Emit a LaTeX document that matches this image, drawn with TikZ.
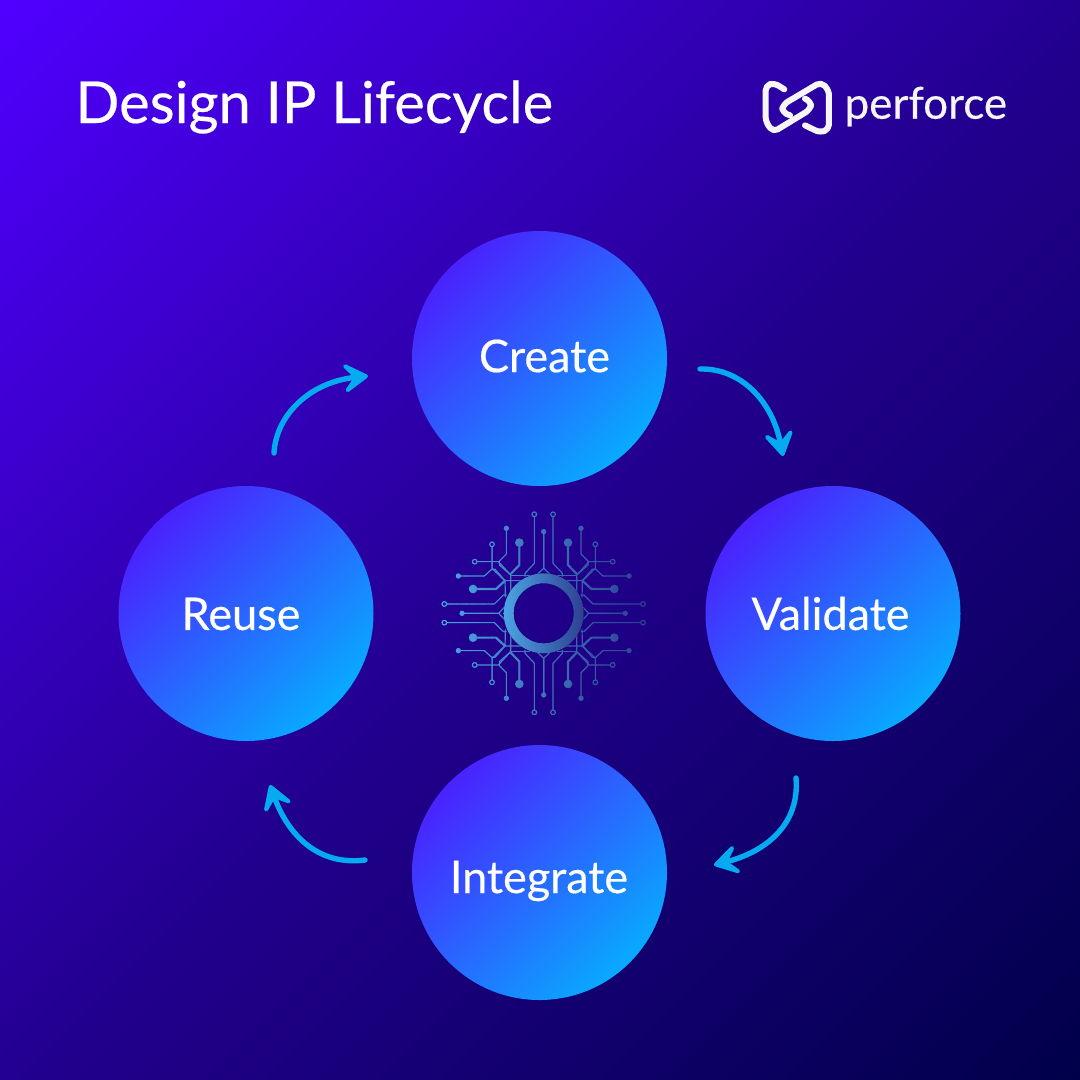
\documentclass[tikz,border=0pt]{standalone}
\usepackage{fontspec}
\setmainfont[RawFeature={embolden=0.35}]{Lato}
\usetikzlibrary{arrows.meta}
\definecolor{bgA}{HTML}{5000FF}
\definecolor{bgB}{HTML}{230090}
\definecolor{bgC}{HTML}{00004A}
\definecolor{discA}{HTML}{4A22FF}
\definecolor{discB}{HTML}{08AAFF}
\definecolor{flowc}{HTML}{05ABF0}
\definecolor{inkw}{HTML}{F6F6F8}
\definecolor{chipL}{HTML}{4CA4E4}
\definecolor{chipR}{HTML}{2E3F92}
\pgfdeclareverticalshading{bgshade}{100bp}{color(0bp)=(bgC); color(14.6bp)=(bgC); color(50bp)=(bgB); color(85.4bp)=(bgA); color(100bp)=(bgA)}
\pgfdeclareverticalshading{discshade}{100bp}{color(0bp)=(discB); color(25bp)=(discB); color(75bp)=(discA); color(100bp)=(discA)}
\pgfdeclarehorizontalshading{ringshade}{100bp}{color(0bp)=(chipL); color(25bp)=(chipL); color(75bp)=(chipR); color(100bp)=(chipR)}
\tikzset{
 stage/.style={circle,minimum size=255pt,inner sep=0pt,shading=discshade,shading angle=45},
 stagetext/.style={text=white,font=\fontsize{45}{45}\selectfont},
 flow/.style={draw=flowc,line width=5.4pt,line cap=round,-{Stealth[length=33pt,width=40pt,inset=17pt,round,line width=4pt,fill=flowc]}},
 trace/.style={line width=1.2pt,line join=round},
 logoline/.style={draw=inkw,line width=6pt,line cap=round,line join=round,rounded corners=5pt},
}
% one quarter of the circuit, in units of one third of a pixel, centre at 0,0
\newcommand{\chipquarter}[1]{%
 \begin{scope}[#1]
  \draw[trace] (-112,-255)--(-112,-178)--(-133,-157)--(-133,-145)--(-99,-115)--(-99,-50);
  \draw[trace,line width=2.2pt] (-73,-212)--(-73,-145)--(-99,-118);
  \draw[trace] (-155,-200)--(-155,-135)--(-116,-97)--(-115,-48);
  \fill (-112,-255) circle (8);
  \fill (-73,-212) circle (13);
  \draw[trace] (-155,-207) circle (7);
  \draw[trace] (-28,-290)--(-28,-150)--(-56,-120)--(-56,-110);
  \draw[trace] (-28,-297) circle (7);
  \draw[trace] (-200,-155)--(-136,-155)--(-99,-115);
  \draw[trace] (-207,-155) circle (7);
  \draw[trace] (-256,-112)--(-178,-112)--(-156,-132)--(-146,-132)--(-116,-98)--(-50,-98);
  \fill (-256,-112) circle (8);
  \draw[trace,line width=2.2pt] (-212,-73)--(-143,-73)--(-114,-100);
  \fill (-212,-73) circle (13);
  \draw[trace] (-291,-28)--(-148,-28)--(-121,-55)--(-111,-55);
  \draw[trace] (-298,-28) circle (7);
  \draw[trace] (-99,-114)--(-40,-114);
 \end{scope}}
\newcommand{\chiptraces}{%
 \chipquarter{}\chipquarter{xscale=-1}\chipquarter{yscale=-1}\chipquarter{xscale=-1,yscale=-1}%
 \draw[trace] (0,-245)--(0,-135)--(-18,-118) (0,-135)--(18,-118);
 \draw[trace] (0,245)--(0,135)--(-18,118) (0,135)--(18,118);
 \draw[trace] (-245,0)--(-135,0)--(-118,-18) (-135,0)--(-118,18);
 \draw[trace] (245,0)--(135,0)--(118,-18) (135,0)--(118,18);
 \fill (0,-245) circle (8); \fill (0,245) circle (8);
 \fill (-245,0) circle (8); \fill (245,0) circle (8);
}
\begin{document}
\begin{tikzpicture}[x=1pt,y=-1pt]
\useasboundingbox (0,0) rectangle (1080,1080);
\fill[shading=bgshade,shading angle=45] (0,0) rectangle (1080,1080);

\node[anchor=west,text=white,font=\fontsize{57.8}{58}\selectfont] (title) at (72,107) {Design IP Lifecycle};

% stages
\node[stage] (create) at (539.5,358.5) {};
\node[stage] (validate) at (833,613.5) {};
\node[stage] (integrate) at (539.5,872.5) {};
\node[stage] (reuse) at (246,613.5) {};
\node[stagetext] (createL) at (544.5,356) {Create};
\node[stagetext] (validateL) at (830.5,613.5) {Validate};
\node[stagetext] (integrateL) at (539,881) {Integrate};
\node[stagetext] (reuseL) at (241,614) {Reuse};

% arrows
\coordinate (a1s) at (700,369); \coordinate (a1e) at (783,456);
\coordinate (a2s) at (796,778); \coordinate (a2e) at (714,865);
\coordinate (a3s) at (365,860); \coordinate (a3e) at (270,785);
\coordinate (a4s) at (274,453); \coordinate (a4e) at (368,376);
\draw[flow] (a1s) .. controls (740,368) and (772,400) .. (a1e);
\draw[flow] (a2s) .. controls (800,825) and (765,852) .. (a2e);
\draw[flow] (a3s) .. controls (318,866) and (288,835) .. (a3e);
\draw[flow] (a4s) .. controls (276,415) and (310,382) .. (a4e);

% circuit
\begin{scope}[shift={(543.7,613.3)},x=0.3333pt,y=0.3333pt]
 \foreach \i in {0,...,23}{
  \pgfmathsetmacro{\mixv}{100-\i*100/23}
  \colorlet{cur}{chipL!\mixv!chipR}
  \begin{scope}
   \clip (-310+\i*26-0.5,-310) rectangle ++(27,620);
   \begin{scope}[draw=cur,fill=cur]
    \chiptraces
   \end{scope}
  \end{scope}
 }
 \fill[even odd rule,shading=ringshade] (0,0) circle (120) (0,0) circle (90);
\end{scope}

% logo
\begin{scope}[shift={(755,72)},x=0.3333pt,y=-0.3333pt]
 \draw[logoline] (88,52)--(58,33)--(32,40)--(32,150)--(55,180)--(165,113)--(170,90)--(150,80);
 \draw[logoline] (150,160)--(195,182)--(222,172)--(222,55)--(198,30)--(85,97)--(80,120)--(105,130);
\end{scope}
\node[anchor=west,text=inkw,font=\fontsize{44}{44}\selectfont] (brand) at (841,106.5) {perforce};
\end{tikzpicture}
\end{document}
